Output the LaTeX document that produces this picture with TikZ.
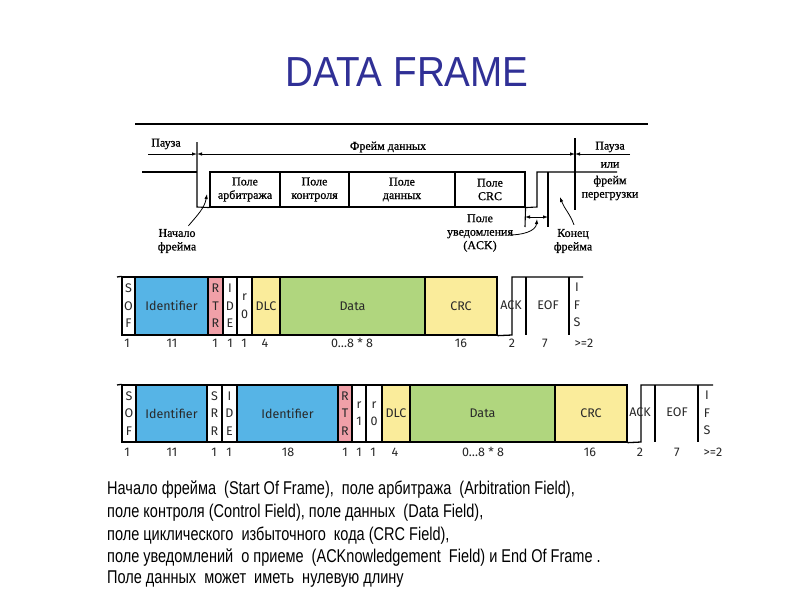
\documentclass[tikz,border=0pt]{standalone}
\usepackage{fontspec}
\setmainfont{Liberation Serif}
\newfontfamily\scanf[FakeBold=0.8]{Liberation Serif}
\newfontfamily\arialf{Liberation Sans}
\newfontfamily\firaf[Numbers=Lining]{Fira Sans}
\usetikzlibrary{arrows.meta}
\definecolor{titleblue}{RGB}{48,48,150}
\definecolor{idblue}{RGB}{86,180,230}
\definecolor{rtrpink}{RGB}{240,160,168}
\definecolor{crcyellow}{RGB}{250,236,155}
\definecolor{datagreen}{RGB}{176,214,126}
\definecolor{fieldtext}{RGB}{40,40,40}
\tikzset{
  scanline/.style={line width=1.1pt},
  topbox/.style={draw, line width=1.1pt, minimum height=35pt, inner sep=0pt, align=center, font=\scanf\fontsize{12}{13.5}\selectfont},
  toptext/.style={inner sep=0pt, align=center, font=\scanf\fontsize{12}{13.5}\selectfont},
  dimarrow/.style={line width=0.8pt, -{Latex[length=5pt,width=3.5pt]}},
  fieldbox/.style={draw, line width=1.3pt, inner sep=0pt, align=center, text=fieldtext, font=\firaf\fontsize{12.5}{17.5}\selectfont},
  rowa/.style={fieldbox, minimum height=58pt},
  rowb/.style={fieldbox, minimum height=57pt},
  bitlabel/.style={inner sep=0pt, text=fieldtext, font=\firaf\fontsize{12.5}{14}\selectfont},
  sigline/.style={line width=1.3pt},
  bodytext/.style={anchor=west, inner sep=0pt, font=\arialf\fontsize{18.5}{21}\selectfont}
}
\begin{document}
\begin{tikzpicture}[x=1pt,y=-1pt]
\useasboundingbox (0,0) rectangle (800,600);
\fill[white] (0,0) rectangle (800,600);
% title
\node[text=titleblue, font=\arialf\fontsize{42}{46}\selectfont, xscale=0.92] (title) at (407,72) {DATA FRAME};

% ===== top scanned diagram =====
\coordinate (tl1) at (135,124);
\coordinate (tl2) at (648,124);
\draw[scanline] (tl1) -- (tl2);

\node[topbox, minimum width=70pt] (arb) at (245,189.5) {Поле\\арбитража};
\node[topbox, minimum width=69pt] (ctrl) at (314.5,189.5) {Поле\\контроля};
\node[topbox, minimum width=106pt] (tdata) at (402,189.5) {Поле\\данных};
\node[topbox, minimum width=70pt] (tcrc) at (490,189.5) {Поле\\CRC};

\coordinate (s0) at (142,172);
\coordinate (s1) at (197,172);
\coordinate (s2) at (197,207);
\coordinate (sofstart) at (197,142);
\draw[scanline] (s0) -- (s1);
\draw[scanline] (sofstart) -- (s2) -- (arb.south west);
\coordinate (a1) at (525,227);
\coordinate (a2) at (537,207);
\coordinate (a3) at (537,172);
\coordinate (a4) at (617,172);
\draw[scanline] (tcrc.south east) -- (a1);
\draw[scanline] (tcrc.south east) -- (a2) -- (a3) -- (a4);
\coordinate (ack1) at (548,172);
\coordinate (ack2) at (548,227);
\draw[scanline] (ack1) -- (ack2);
\coordinate (eoft) at (575,138);
\coordinate (eofb) at (575,210);
\draw[scanline] (eoft) -- (eofb);

% dimension lines
\coordinate (d0) at (148,154);
\coordinate (d1) at (197,154);
\coordinate (d2) at (575,154);
\coordinate (d3) at (630,154);
\draw[dimarrow] (d0) -- (d1);
\draw[dimarrow, {Latex[length=5pt,width=3.5pt]}-{Latex[length=5pt,width=3.5pt]}] (d1) -- (d2);
\draw[dimarrow] (d3) -- (d2);
\coordinate (k1) at (525,217);
\coordinate (k2) at (548,217);
\draw[dimarrow, {Latex[length=5pt,width=3.5pt]}-{Latex[length=5pt,width=3.5pt]}] (k1) -- (k2);

\node[toptext] (p1) at (166,144) {Пауза};
\node[toptext] (fd) at (388,147) {Фрейм данных};
\node[toptext] (p2) at (610,147) {Пауза};
\node[toptext] (ili) at (610,165) {или};
\node[toptext] (fp) at (610,188) {фрейм\\перегрузки};

\node[toptext] (nach) at (177,241) {Начало\\фрейма};
\node[toptext] (uved) at (480,233) {Поле\\уведомления\\(ACK)};
\node[toptext] (kon) at (573,241) {Конец\\фрейма};

\coordinate (nachtip) at (207,194);
\coordinate (uvedtip) at (537,219);
\coordinate (kontip) at (560,197);
\draw[dimarrow] (nach.north east) ++(-8,-3) to[out=50,in=-100] (nachtip);
\draw[dimarrow] (uved.east) ++(-4,2) to[out=0,in=-95] (uvedtip);
\draw[dimarrow] (kon.north) ++(1,-4) to[out=110,in=-70] (kontip);

% ===== row 1: standard frame =====
\node[rowa, minimum width=13pt] (sof1) at (128.5,306) {S\\O\\F};
\node[rowa, minimum width=73pt, fill=idblue] (id1) at (171.5,306) {Identifier};
\node[rowa, minimum width=15pt, fill=rtrpink] (rtr1) at (215.5,306) {R\\T\\R};
\node[rowa, minimum width=14pt] (ide1) at (230,306) {I\\D\\E};
\node[rowa, minimum width=15pt] (r01) at (244.5,306) {r\\0};
\node[rowa, minimum width=28pt, fill=crcyellow] (dlc1) at (266,306) {DLC};
\node[rowa, minimum width=145pt, fill=datagreen] (data1) at (352.5,306) {Data};
\node[rowa, minimum width=72pt, fill=crcyellow] (crc1) at (461,306) {CRC};
\coordinate (l1) at (117,277);
\draw[sigline] (l1) -- (sof1.north west);
\coordinate (e1a) at (512,335);
\coordinate (e1b) at (512,277);
\coordinate (e1c) at (583,277);
\draw[sigline] (crc1.south east) -- (e1a) -- (e1b) -- (e1c);
\coordinate (v1a) at (526,277);
\coordinate (v1b) at (526,335);
\coordinate (v1c) at (569,277);
\coordinate (v1d) at (569,335);
\draw[sigline] (v1a) -- (v1b);
\draw[sigline] (v1c) -- (v1d);
\node[fieldbox, draw=none] (ack1t) at (511,305) {ACK};
\node[fieldbox, draw=none] (eof1t) at (548,305) {EOF};
\node[fieldbox, draw=none] (ifs1t) at (577,305) {I\\F\\S};

\node[bitlabel] at (127,343) {1};
\node[bitlabel] at (172,343) {11};
\node[bitlabel] at (215,343) {1};
\node[bitlabel] at (230,343) {1};
\node[bitlabel] at (244,343) {1};
\node[bitlabel] at (265,343) {4};
\node[bitlabel] at (352,343) {0\dots8 * 8};
\node[bitlabel] at (461,343) {16};
\node[bitlabel] at (512,343) {2};
\node[bitlabel] at (545,343) {7};
\node[bitlabel] at (584,343) {>=2};

% ===== row 2: extended frame =====
\node[rowb, minimum width=14pt] (sof2) at (129,413.5) {S\\O\\F};
\node[rowb, minimum width=71pt, fill=idblue] (id2) at (171.5,413.5) {Identifier};
\node[rowb, minimum width=15pt] (srr2) at (214.5,413.5) {S\\R\\R};
\node[rowb, minimum width=15pt] (ide2) at (229.5,413.5) {I\\D\\E};
\node[rowb, minimum width=101pt, fill=idblue] (idb2) at (287.5,413.5) {Identifier};
\node[rowb, minimum width=14pt, fill=rtrpink] (rtr2) at (345,413.5) {R\\T\\R};
\node[rowb, minimum width=14pt] (r12) at (359,413.5) {r\\1};
\node[rowb, minimum width=16pt] (r02) at (374,413.5) {r\\0};
\node[rowb, minimum width=28pt, fill=crcyellow] (dlc2) at (396,413.5) {DLC};
\node[rowb, minimum width=145pt, fill=datagreen] (data2) at (482.5,413.5) {Data};
\node[rowb, minimum width=72pt, fill=crcyellow] (crc2) at (591,413.5) {CRC};
\coordinate (l2) at (117,385);
\draw[sigline] (l2) -- (sof2.north west);
\coordinate (e2a) at (641,442);
\coordinate (e2b) at (641,385);
\coordinate (e2c) at (713,385);
\draw[sigline] (crc2.south east) -- (e2a) -- (e2b) -- (e2c);
\coordinate (v2a) at (655,385);
\coordinate (v2b) at (655,442);
\coordinate (v2c) at (698,385);
\coordinate (v2d) at (698,442);
\draw[sigline] (v2a) -- (v2b);
\draw[sigline] (v2c) -- (v2d);
\node[fieldbox, draw=none] (ack2t) at (640,412) {ACK};
\node[fieldbox, draw=none] (eof2t) at (677,412) {EOF};
\node[fieldbox, draw=none] (ifs2t) at (707,413) {I\\F\\S};

\node[bitlabel] at (127,452) {1};
\node[bitlabel] at (172,452) {11};
\node[bitlabel] at (214,452) {1};
\node[bitlabel] at (229,452) {1};
\node[bitlabel] at (288,452) {18};
\node[bitlabel] at (345,452) {1};
\node[bitlabel] at (359,452) {1};
\node[bitlabel] at (373,452) {1};
\node[bitlabel] at (395,452) {4};
\node[bitlabel] at (483,452) {0\dots8 * 8};
\node[bitlabel] at (590,452) {16};
\node[bitlabel] at (640,452) {2};
\node[bitlabel] at (677,452) {7};
\node[bitlabel] at (713,452) {>=2};

% ===== description text =====
\node[bodytext] (t1) at (107,490) {\scalebox{0.785}[1]{Начало фрейма \ (Start Of Frame), \ поле арбитража \ (Arbitration Field),}};
\node[bodytext] (t2) at (107,513) {\scalebox{0.785}[1]{поле контроля (Control Field), поле данных \ (Data Field),}};
\node[bodytext] (t3) at (107,536) {\scalebox{0.785}[1]{поле циклического \ избыточного \ кода (CRC Field),}};
\node[bodytext] (t4) at (107,558) {\scalebox{0.785}[1]{поле уведомлений \ о приеме \ (ACKnowledgement \ Field) и End Of Frame .}};
\node[bodytext] (t5) at (107,579) {\scalebox{0.785}[1]{Поле данных \ может \ иметь \ нулевую длину}};
\end{tikzpicture}
\end{document}
